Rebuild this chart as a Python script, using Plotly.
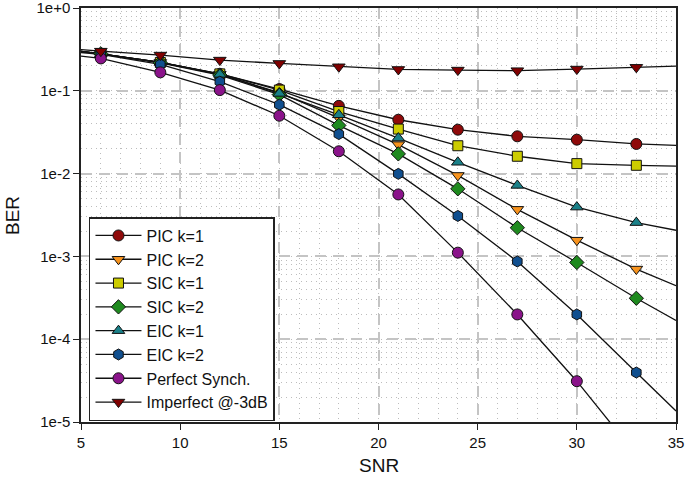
import plotly.graph_objects as go

# ---- data ----
SNR = [6, 9, 12, 15, 18, 21, 24, 27, 30, 33]
LINE_SNR = [5, 6, 9, 12, 15, 18, 21, 24, 27, 30, 33, 35]

names = ["PIC k=1", "PIC k=2", "SIC k=1", "SIC k=2", "EIC k=1", "EIC k=2",
         "Perfect Synch.", "Imperfect @-3dB"]

pic1 = [0.28, 0.22, 0.16, 0.105, 0.0658, 0.0447, 0.0339, 0.0282, 0.0257, 0.0228]
pic2 = [0.28, 0.22, 0.158, 0.095, 0.047, 0.0224, 0.0095, 0.0037, 0.00157, 0.000703]
sic1 = [0.28, 0.22, 0.16, 0.102, 0.0562, 0.0345, 0.0217, 0.0162, 0.0132, 0.0126]
sic2 = [0.28, 0.218, 0.155, 0.09, 0.0382, 0.0173, 0.00655, 0.00222, 0.000845, 0.000312]
eic1 = [0.28, 0.22, 0.158, 0.093, 0.0513, 0.0269, 0.0137, 0.0072, 0.00394, 0.00256]
eic2 = [0.275, 0.208, 0.129, 0.068, 0.030, 0.00993, 0.00308, 0.000869, 0.000199, 3.96e-5]
perfect = [0.246, 0.167, 0.102, 0.050, 0.0186, 0.0056, 0.00111, 0.000199, 3.11e-5]
imperfect = [0.301, 0.27, 0.235, 0.214, 0.195, 0.181, 0.178, 0.175, 0.183, 0.192]

# line start (SNR=5) and end (SNR=35) values
line_start = [0.30, 0.30, 0.30, 0.30, 0.30, 0.29, 0.263, 0.315]
line_end = [0.0219, 0.000443, 0.0123, 0.000168, 0.00207, 1.36e-5, None, 0.199]
perfect_line_33 = 4.0e-6

x_ticks = [5, 10, 15, 20, 25, 30, 35]
y_ticks = [1e-5, 1e-4, 1e-3, 1e-2, 1e-1, 1]
y_tick_text = ["1e-5", "1e-4", "1e-3", "1e-2", "1e-1", "1e+0"]

series = [pic1, pic2, sic1, sic2, eic1, eic2, perfect, imperfect]

colors = ["#8f0a0a", "#f7931e", "#cccc00", "#1f8a1f", "#1a8088", "#104f8f",
          "#8a138a", "#800000"]
symbols = ["circle", "triangle-down", "square", "diamond", "triangle-up",
           "hexagon", "circle", "triangle-down"]
sizes = [11, 11, 10, 11, 11, 11, 11, 11]

fig = go.Figure()

# curves
for i, vals in enumerate(series):
    if names[i] == "Perfect Synch.":
        lx = LINE_SNR[:10] + [33]
        ly = [line_start[i]] + vals + [perfect_line_33]
    else:
        lx = LINE_SNR
        ly = [line_start[i]] + vals + [line_end[i]]
    fig.add_trace(go.Scatter(x=lx, y=ly, mode="lines",
                             line=dict(color="#111111", width=1.3),
                             showlegend=False, hoverinfo="skip"))

# markers
for i, vals in enumerate(series):
    fig.add_trace(go.Scatter(x=SNR[:len(vals)], y=vals, mode="markers",
                             marker=dict(symbol=symbols[i], size=sizes[i],
                                         color=colors[i],
                                         line=dict(color="#111111", width=1)),
                             showlegend=False))

# legend entries
for i in range(len(series)):
    fig.add_trace(go.Scatter(x=[None], y=[None], mode="lines+markers", name=names[i],
                             legendgroup=names[i],
                             line=dict(color="#111111", width=1.3),
                             marker=dict(symbol=symbols[i], size=sizes[i],
                                         color=colors[i],
                                         line=dict(color="#111111", width=1))))

font = "Liberation Sans, Arial, Helvetica, sans-serif"
grid_major = "#c4c4c4"
grid_minor = "#bdbdbd"

fig.update_layout(
    width=685, height=478,
    margin=dict(l=81, r=9, t=8, b=56),
    paper_bgcolor="white", plot_bgcolor="white",
    font=dict(family=font, size=15, color="#111111"),
    legend=dict(x=0.0134, y=0.495, xanchor="left", yanchor="top",
                bgcolor="white", bordercolor="#222222", borderwidth=1.5,
                font=dict(size=16), tracegroupgap=0,
                itemwidth=46),
    annotations=[
        dict(text="SNR", x=0.5, y=-0.106, xref="paper", yref="paper",
             xanchor="center", yanchor="middle", showarrow=False,
             font=dict(size=19)),
        dict(text="BER", x=-0.116, y=0.5, xref="paper", yref="paper",
             xanchor="center", yanchor="middle", showarrow=False,
             textangle=-90, font=dict(size=19)),
    ],
)

fig.update_xaxes(
    range=[5, 35], tickmode="array", tickvals=x_ticks,
    ticks="outside", ticklen=6, tickcolor="#222222",
    showline=True, mirror=True, linecolor="#222222", linewidth=1.5,
    showgrid=True, gridcolor=grid_major, gridwidth=1.5, griddash="11px,7px",
    minor=dict(tickmode="linear", tick0=5, dtick=1, showgrid=True,
               gridcolor=grid_minor, gridwidth=1, griddash="1px,4px", ticks=""),
    zeroline=False, automargin=False, ticklabeloverflow="allow",
    tickfont=dict(size=15),
)

fig.update_yaxes(
    type="log", range=[-5, 0],
    tickmode="array", tickvals=y_ticks, ticktext=y_tick_text,
    ticks="outside", ticklen=6, tickcolor="#222222",
    showline=True, mirror=True, linecolor="#222222", linewidth=1.5,
    showgrid=True, gridcolor=grid_major, gridwidth=1.5, griddash="11px,7px",
    minor=dict(dtick="D1", showgrid=True, gridcolor=grid_minor, gridwidth=1,
               griddash="1px,4px", ticks=""),
    zeroline=False, automargin=False, ticklabeloverflow="allow",
    tickfont=dict(size=15),
)

fig.write_html("out.html", config={"displayModeBar": False},
               post_script="document.body.style.margin='0';")
